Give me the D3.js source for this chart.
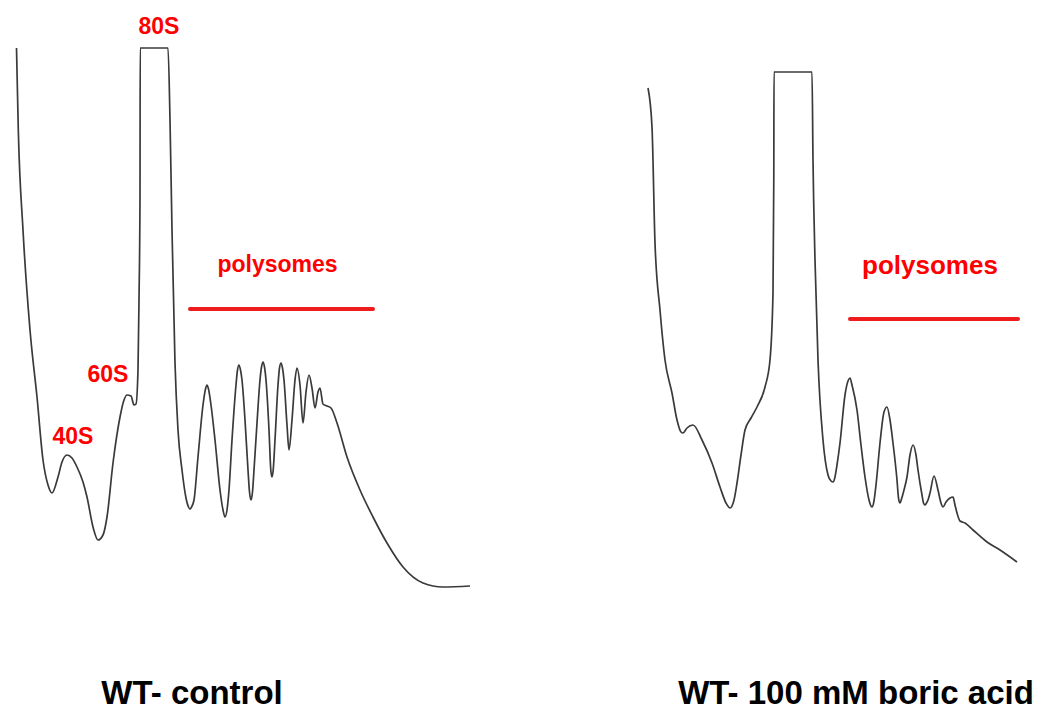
<!DOCTYPE html>
<meta charset="utf-8">
<style>
body { margin: 0; background: #fff; }
svg { display: block; font-family: "Liberation Sans", Arial, sans-serif; font-weight: bold; }
</style>
<body>
<script src="https://cdn.jsdelivr.net/npm/d3@7"></script>
<script>
var width = 1051
var height = 713

// position along gradient (arbitrary units) and A254
var controlPos = [0.25, 0.43, 0.9, 1.6, 2.3, 2.9, 3.4, 3.8, 4.4, 4.8, 5.3, 5.8, 6.3, 6.9, 7.3, 7.9, 8.4, 8.9, 9.3, 9.9,
    10.6, 11.0, 11.3, 11.7, 12.0, 12.2, 12.4, 12.5, 12.6, 12.62, 15.4, 15.6, 15.8, 16.1, 16.4, 16.8, 17.2,
    17.45, 17.6, 17.75, 18.0, 18.4, 18.9, 19.15, 19.3, 19.45, 19.7, 20.1, 20.6, 20.9, 21.1, 21.3, 21.5, 21.8, 22.2,
    22.35, 22.5, 22.65, 22.8, 23.1, 23.4, 23.55, 23.7, 23.85, 24.0, 24.3, 24.6, 24.75, 24.9, 25.05, 25.2, 25.5, 25.68,
    25.8, 25.92, 26.1, 26.4, 26.55, 26.7, 26.85, 27.0, 27.3, 27.5, 27.8, 28.1, 28.3, 28.6, 28.9, 29.2, 29.5, 29.8,
    30.1, 30.4, 30.6, 30.9, 31.3, 31.7, 32.3, 33.3, 34.6, 35.9, 37.3, 38.9, 40.9, 42.9, 45.6]
var controlAbs = [0.542, 0.460, 0.360, 0.260, 0.193, 0.130, 0.105, 0.097, 0.113, 0.128, 0.135, 0.132, 0.123, 0.108, 0.093, 0.063, 0.050, 0.055, 0.073, 0.127,
    0.173, 0.190, 0.195, 0.194, 0.185, 0.186, 0.220, 0.290, 0.393, 0.542, 0.542, 0.470, 0.360, 0.227, 0.160, 0.120, 0.092,
    0.083, 0.081, 0.083, 0.090, 0.133, 0.185, 0.201, 0.205, 0.201, 0.185, 0.150, 0.100, 0.080, 0.073, 0.080, 0.100, 0.150, 0.205,
    0.220, 0.225, 0.220, 0.210, 0.170, 0.120, 0.098, 0.090, 0.098, 0.120, 0.167, 0.210, 0.223, 0.228, 0.223, 0.210, 0.160, 0.120,
    0.113, 0.120, 0.150, 0.205, 0.222, 0.227, 0.222, 0.210, 0.165, 0.140, 0.170, 0.210, 0.222, 0.205, 0.167, 0.198, 0.215, 0.202,
    0.182, 0.198, 0.202, 0.186, 0.184, 0.182, 0.167, 0.133, 0.100, 0.073, 0.047, 0.023, 0.007, 0.003, 0.004]

var boricPos = [0.8, 1.2, 1.5, 2.0, 2.5, 3.2, 3.7, 4.1, 4.3, 4.7, 5.3, 6.2, 7.2, 8.0, 8.6, 9.0, 9.4, 9.7, 10.1, 10.5,
    11.1, 11.7, 12.5, 13.0, 13.3, 13.38, 13.4, 17.2, 17.3, 17.5,
    17.8, 18.3, 18.8, 19.1, 19.3, 19.5, 19.7, 20.0, 20.5, 20.8,
    21.0, 21.2, 21.7, 22.1, 22.5, 22.9, 23.05, 23.2, 23.38, 23.6,
    24.0, 24.4, 24.7, 25.0, 25.3, 25.7, 25.85, 26.0, 26.15, 26.4,
    26.7, 27.0, 27.3, 27.6, 27.8, 28.2, 28.35, 28.5, 28.65, 28.8,
    29.0, 29.4, 29.8, 30.1, 30.3, 30.6, 31.0, 31.3, 31.5, 31.7,
    32.0, 32.5, 33.3, 34.7, 36.0, 37.7]
var boricAbs = [0.512, 0.473, 0.357, 0.290, 0.240, 0.207, 0.180, 0.168, 0.167, 0.172, 0.175, 0.160, 0.137, 0.113, 0.097, 0.092, 0.100, 0.117, 0.145, 0.170,
    0.182, 0.193, 0.213, 0.240, 0.307, 0.423, 0.528, 0.528, 0.440, 0.340,
    0.240, 0.160, 0.125, 0.119, 0.118, 0.123, 0.135, 0.157, 0.205, 0.219,
    0.222, 0.215, 0.190, 0.155, 0.123, 0.100, 0.095, 0.093, 0.098, 0.115,
    0.157, 0.188, 0.193, 0.180, 0.157, 0.120, 0.102, 0.097, 0.101, 0.110,
    0.123, 0.145, 0.155, 0.145, 0.130, 0.105, 0.097, 0.095, 0.097, 0.100,
    0.107, 0.124, 0.110, 0.097, 0.093, 0.098, 0.102, 0.103, 0.095, 0.087,
    0.079, 0.077, 0.070, 0.058, 0.050, 0.038]

var peakLabels = ['40S', '60S', '80S']
var peakLabelPos = [5.9, 9.4, 14.5]
var peakLabelAbs = [0.146, 0.208, 0.556]

var polysomeLabel = 'polysomes'
var polysomeSpan = [[17.6, 35.9], [21.0, 37.8]]
var polysomeAbs = 0.281
var titles = ['WT- control', 'WT- 100 mM boric acid']

var svg = d3.select('body').append('svg')
    .attr('width', width)
    .attr('height', height)

var panels = [
    { pos: controlPos, abs: controlAbs,
      x: d3.scaleLinear().domain([0, 46]).range([14, 474]),
      y: d3.scaleLinear().domain([0, 0.55]).range([590, 40]),
      span: polysomeSpan[0], textX: 26.35, textAbs: 0.318, textSize: 23,
      title: titles[0], titleX: 192 },
    { pos: boricPos, abs: boricAbs,
      x: d3.scaleLinear().domain([0, 40]).range([640, 1040]),
      y: d3.scaleLinear().domain([0, 0.55]).range([600, 50]),
      span: polysomeSpan[1], textX: 29.0, textAbs: 0.326, textSize: 26,
      title: titles[1], titleX: 856 }
]

panels.forEach(function (p, k) {
    var pts = p.pos.map(function (d, i) { return [d, p.abs[i]] })
    var line = d3.line()
        .x(function (d) { return p.x(d[0]) })
        .y(function (d) { return p.y(d[1]) })
        .curve(d3.curveMonotoneX)

    svg.append('path')
        .datum(pts)
        .attr('d', line)
        .attr('fill', 'none')
        .attr('stroke', '#3a3a3a')
        .attr('stroke-width', 1.7)
        .attr('stroke-linejoin', 'round')

    svg.append('line')
        .attr('x1', p.x(p.span[0]))
        .attr('x2', p.x(p.span[1]))
        .attr('y1', p.y(polysomeAbs))
        .attr('y2', p.y(polysomeAbs))
        .attr('stroke', '#ee1c1c')
        .attr('stroke-width', 4)
        .attr('stroke-linecap', 'round')

    svg.append('text')
        .attr('x', p.x(p.textX))
        .attr('y', p.y(p.textAbs))
        .attr('text-anchor', 'middle')
        .attr('fill', '#ff0000')
        .style('font-size', p.textSize + 'px')
        .text(polysomeLabel)

    svg.append('text')
        .attr('x', p.titleX)
        .attr('y', 704)
        .attr('text-anchor', 'middle')
        .attr('fill', '#000')
        .style('font-size', '33px')
        .text(p.title)

    if (k === 0) {
        svg.selectAll('.peak')
            .data(peakLabels)
            .enter().append('text')
            .attr('class', 'peak')
            .attr('x', function (d, i) { return p.x(peakLabelPos[i]) })
            .attr('y', function (d, i) { return p.y(peakLabelAbs[i]) })
            .attr('text-anchor', 'middle')
            .attr('fill', '#ff0000')
            .style('font-size', '23px')
            .text(function (d) { return d })
    }
})
</script>
</body>
